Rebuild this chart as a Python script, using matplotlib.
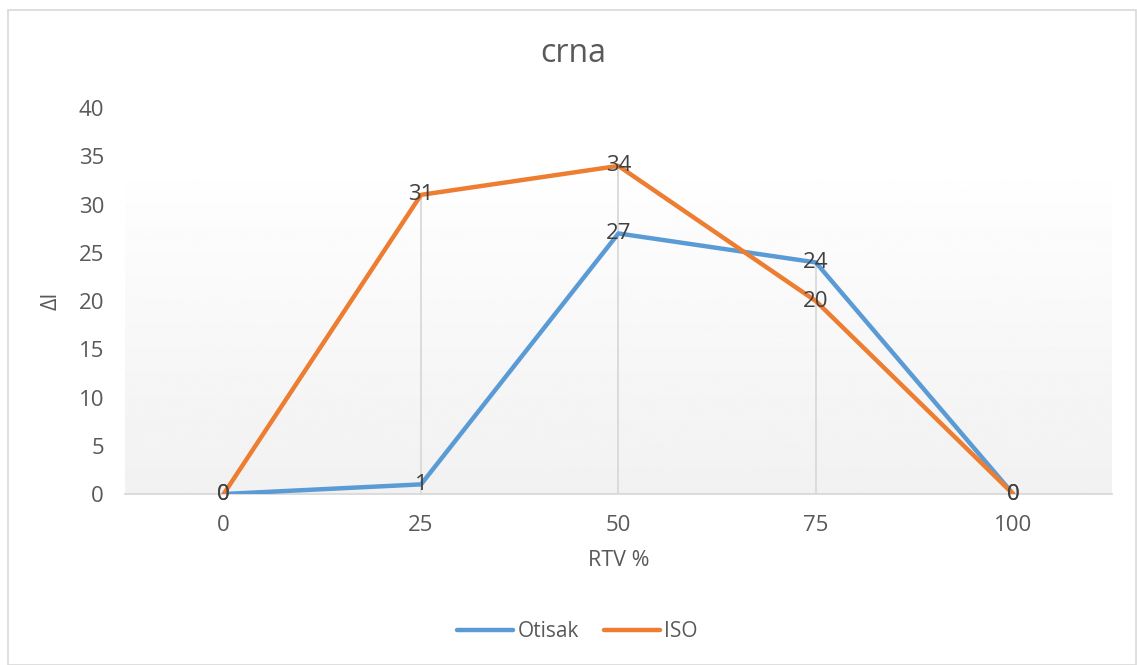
import numpy as np
import matplotlib.pyplot as plt
from matplotlib.patches import Rectangle

plt.rcParams['font.family'] = ['Open Sans', 'DejaVu Sans']

rtv = [0, 25, 50, 75, 100]
otisak = [0, 1, 27, 24, 0]
iso = [0, 31, 34, 20, 0]

plavo = '#5B9BD5'
narancasto = '#ED7D31'
siva = '#595959'

fig = plt.figure(figsize=(11.37, 6.65), dpi=100)
fig.patches.append(Rectangle((0.007, 0.0), 0.992, 0.985, transform=fig.transFigure,
                             fill=False, edgecolor='#D9D9D9', linewidth=1.2))
ax = fig.add_axes([0.1099, 0.2571, 0.868, 0.5805])

ax.set_xlim(-12.5, 112.5)
ax.set_ylim(0, 40)

# gradijent pozadine (svijetlo siva pri dnu, bijela prema vrhu)
grad = np.linspace(0.945, 1.0, 256).reshape(-1, 1)
ax.imshow(grad, extent=[-12.5, 112.5, 0, 35], origin='lower', cmap='gray',
          vmin=0, vmax=1, aspect='auto', zorder=0)

# okomite linije od maksimuma do osi
for x, a, b in zip(rtv, otisak, iso):
    vrh = max(a, b)
    if vrh > 0:
        ax.vlines(x, 0, vrh, color='#D9D9D9', linewidth=1.3, zorder=1)

ax.plot(rtv, otisak, color=plavo, linewidth=3.2, label='Otisak', zorder=3,
        solid_capstyle='round', solid_joinstyle='round')
ax.plot(rtv, iso, color=narancasto, linewidth=3.2, label='ISO', zorder=4,
        solid_capstyle='round', solid_joinstyle='round')

for x, a, b in zip(rtv, otisak, iso):
    ax.text(x, a, str(a), ha='center', va='center', fontsize=16, color='#404040', zorder=5)
    ax.text(x, b, str(b), ha='center', va='center', fontsize=16, color='#404040', zorder=5)

ax.set_xticks(rtv)
ax.set_yticks(range(0, 41, 5))
ax.tick_params(length=0, labelsize=16, labelcolor=siva, pad=15)
ax.tick_params(axis='x', pad=15)

for s in ['top', 'right', 'left']:
    ax.spines[s].set_visible(False)
ax.spines['bottom'].set_color('#D9D9D9')
ax.spines['bottom'].set_linewidth(1.3)

ax.set_xlabel('RTV %', fontsize=15.5, color=siva, labelpad=10)
ax.set_ylabel('ΔI', fontsize=15.5, color=siva, labelpad=12)
fig.text(0.504, 1 - 54 / 665, 'crna', fontsize=23, color=siva, ha='center', va='center')

fig.legend(loc='center', bbox_to_anchor=(0.508, 0.05), ncol=2, frameon=False,
           fontsize=15, labelcolor=siva, handlelength=2.7, handletextpad=0.2,
           columnspacing=1.2)

fig.savefig('out.png', dpi=100)
